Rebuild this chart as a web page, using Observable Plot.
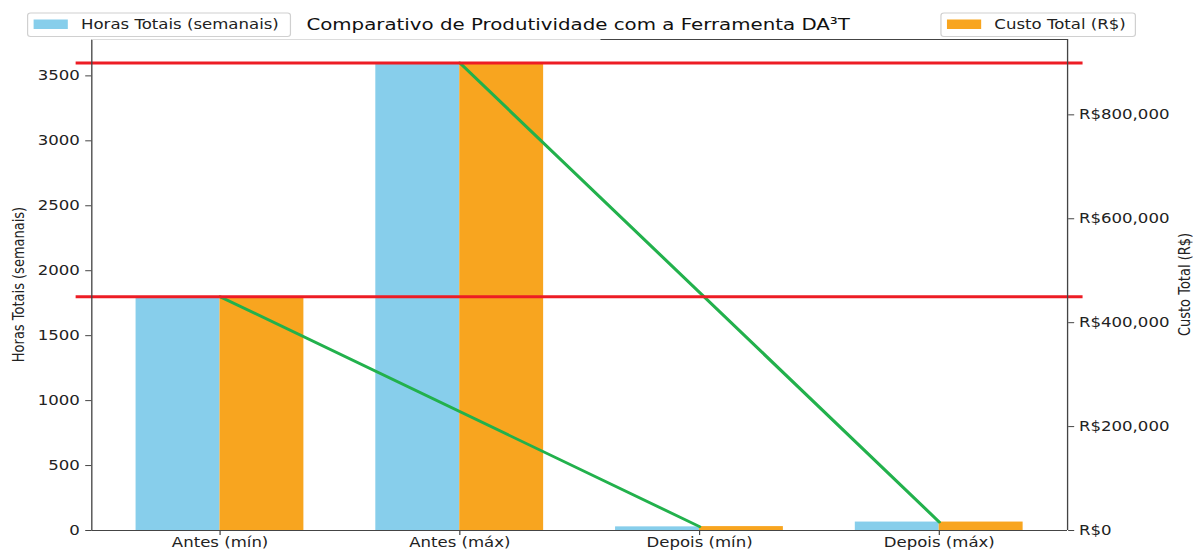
<!DOCTYPE html>
<html>
<head>
<meta charset="utf-8">
<script src="https://cdn.jsdelivr.net/npm/d3@7"></script>
<script src="https://cdn.jsdelivr.net/npm/@observablehq/plot@0.6"></script>
<style>
  html, body { margin: 0; padding: 0; background: #fff; overflow: hidden; }
  #wrap { position: relative; width: 994px; height: 551px; transform: scaleX(1.2002); transform-origin: 0 0; }
  #wrap svg { display: block; }
</style>
</head>
<body>
<div id="wrap"></div>
<script>
// ---- data ----
const categories = ["Antes (mín)", "Antes (máx)", "Depois (mín)", "Depois (máx)"];
const hours = [1800, 3600, 28, 65];
const costs = [450000, 900000, 7500, 16250];
const leftTicks = [0, 500, 1000, 1500, 2000, 2500, 3000, 3500];
const rightTicks = [0, 200000, 400000, 600000, 800000];
const referenceHours = [1800, 3600];
const linePairs = [[0, 2], [1, 3]];
const costPerHour = 250; // ratio between right (R$) and left (hours) axes

const titleText = "Comparativo de Produtividade com a Ferramenta DA³T";
const leftLabel = "Horas Totais (semanais)";
const rightLabel = "Custo Total (R$)";

// ---- derived tables ----
const rows = categories.map((c, i) => ({i, cat: c, hours: hours[i], cost: costs[i]}));
const lineRows = linePairs.flatMap((p, k) => p.map(i => ({pair: k, i, cost: costs[i]})));

const X0 = -0.535, X1 = 3.535, YTOP = 3780;
const dark = "#444";

const fmt = d3.format(",");
const chart = Plot.plot({
  width: 994,
  height: 551,
  marginLeft: 76,
  marginRight: 105,
  marginTop: 39,
  marginBottom: 21,
  style: {fontFamily: "'DejaVu Sans', sans-serif", fontSize: "13.8px", color: "#222", background: "#fff"},
  x: {type: "linear", domain: [X0, X1]},
  y: {domain: [0, YTOP]},
  marks: [
    Plot.rect(rows, {x1: d => d.i - 0.35, x2: d => d.i, y1: 0, y2: d => d.hours, fill: "#87ceeb"}),
    Plot.rect(rows, {x1: d => d.i, x2: d => d.i + 0.35, y1: 0, y2: d => d.cost / costPerHour, fill: "#f8a51f"}),
    Plot.line(lineRows, {x: "i", y: d => d.cost / costPerHour, z: "pair", stroke: "#22b14c", strokeWidth: 2.8}),
    Plot.ruleY(referenceHours, {x1: -0.6, x2: 3.6, stroke: "#ed1c24", strokeWidth: 3, clip: false}),
    // spines
    Plot.ruleX([X0], {stroke: dark, strokeWidth: 1.1}),
    Plot.ruleX([X1], {stroke: dark, strokeWidth: 1.1}),
    Plot.ruleY([0], {x1: X0, x2: X1, stroke: dark, strokeWidth: 1.1}),
    Plot.ruleY([YTOP], {x1: X0, x2: 1.589, stroke: "#dcdcdc", strokeWidth: 1}),
    Plot.ruleY([YTOP], {x1: 1.589, x2: X1, stroke: dark, strokeWidth: 1.1}),
    // axes
    Plot.axisY({anchor: "left", ticks: leftTicks, tickFormat: d => String(d), tickSize: 5, tickPadding: 5, label: null, stroke: dark}),
    Plot.axisY({anchor: "right", ticks: rightTicks.map(v => v / costPerHour),
      tickFormat: v => "R$" + fmt(Math.round(v * costPerHour)), tickSize: 5, tickPadding: 4.5, label: null, stroke: dark}),
    Plot.axisX({ticks: [0, 1, 2, 3], tickFormat: i => categories[i], tickSize: 5, tickPadding: 2, label: null, stroke: dark})
  ]
});
document.getElementById("wrap").appendChild(chart);

// ---- overlays: title, legends, axis labels ----
const svg = d3.select(chart);
const font = "'DejaVu Sans', sans-serif";
svg.append("text")
  .attr("x", 481.7).attr("y", 30)
  .attr("text-anchor", "middle")
  .attr("font-family", font).attr("font-size", "16.5px").attr("fill", "#111")
  .text(titleText);

function legend(x, w, color, label) {
  const g = svg.append("g");
  g.append("rect").attr("x", x).attr("y", 13).attr("width", w).attr("height", 23.5)
    .attr("rx", 2.5).attr("fill", "#fff").attr("fill-opacity", 0.8).attr("stroke", "#d0d0d0").attr("stroke-width", 1);
  g.append("rect").attr("x", x + 5).attr("y", 19.5).attr("width", 28.5).attr("height", 9.5).attr("fill", color);
  g.append("text").attr("x", x + 44.5).attr("y", 29.5)
    .attr("text-anchor", "start")
    .attr("font-family", font).attr("font-size", "13.8px").attr("fill", "#222").text(label);
}
legend(23, 219, "#87ceeb", leftLabel);
legend(784, 162, "#f8a51f", rightLabel);

svg.append("text")
  .attr("transform", "translate(15.8,284.5) rotate(-90)")
  .attr("text-anchor", "middle").attr("dominant-baseline", "central")
  .attr("font-family", font).attr("font-size", "13px").attr("fill", "#222")
  .text(leftLabel);
svg.append("text")
  .attr("transform", "translate(986.7,284.5) rotate(-90)")
  .attr("text-anchor", "middle").attr("dominant-baseline", "central")
  .attr("font-family", font).attr("font-size", "13px").attr("fill", "#222")
  .text(rightLabel);
</script>
</body>
</html>
